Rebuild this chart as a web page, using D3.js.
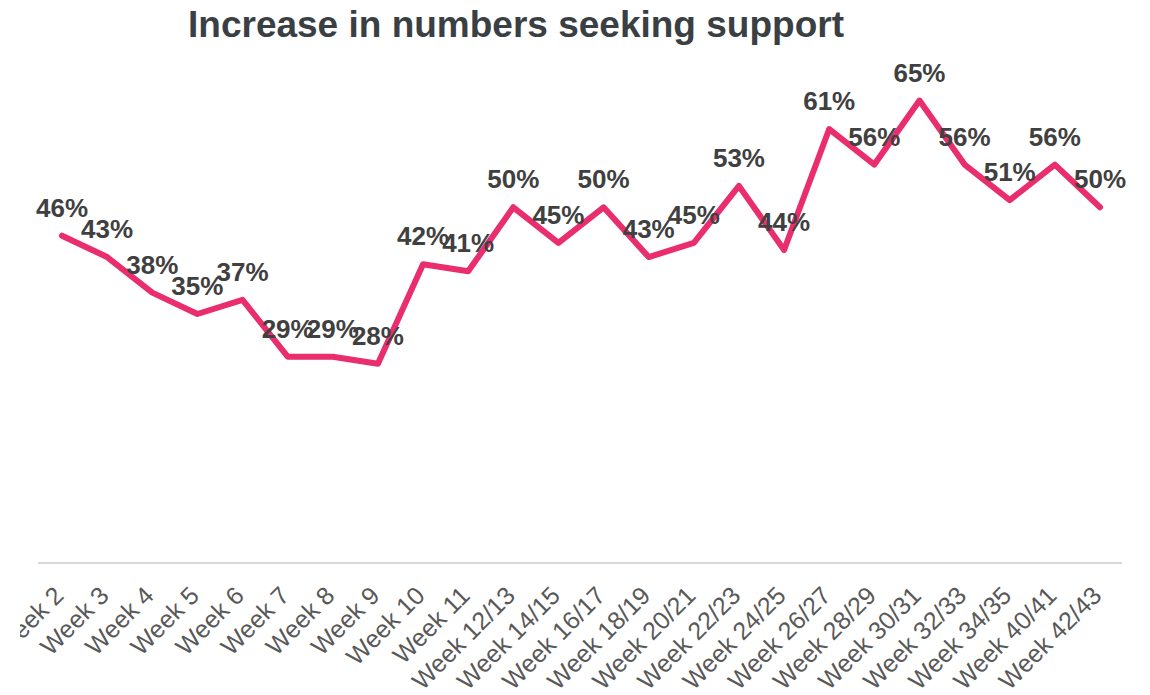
<!DOCTYPE html>
<html>
<head>
<meta charset="utf-8">
<script src="https://cdn.jsdelivr.net/npm/d3@7"></script>
<style>
body { margin: 0; background: #fff; }
</style>
</head>
<body>
<script>
let width = 1150
let height = 695

// data
let weeks = ["Week 2", "Week 3", "Week 4", "Week 5", "Week 6", "Week 7", "Week 8", "Week 9",
	"Week 10", "Week 11", "Week 12/13", "Week 14/15", "Week 16/17", "Week 18/19", "Week 20/21",
	"Week 22/23", "Week 24/25", "Week 26/27", "Week 28/29", "Week 30/31", "Week 32/33",
	"Week 34/35", "Week 40/41", "Week 42/43"]
let increase = [46, 43, 38, 35, 37, 29, 29, 28, 42, 41, 50, 45, 50, 43, 45, 53, 44, 61, 56, 65, 56, 51, 56, 50]

let svg = d3.select("body")
.append("svg")
.attr("width", width)
.attr("height", height)
.style("font-family", "'Liberation Sans', Arial, sans-serif")

//scales
let x = d3.scalePoint()
.domain(weeks)
.range([62, 1100])

let y = d3.scaleLinear()
.domain([0, 70])
.range([563, 65])

// title
svg.append("text")
	.attr("x", 516)
	.attr("y", 37)
	.attr("text-anchor", "middle")
	.style("font-size", "37px")
	.style("font-weight", "bold")
	.style("fill", "#3a3f44")
	.text("Increase in numbers seeking support")

// baseline
svg.append("line")
	.attr("x1", 38)
	.attr("x2", 1122)
	.attr("y1", y(0))
	.attr("y2", y(0))
	.style("stroke", "#d9d9d9")
	.style("stroke-width", 2)

// clip left edge like the original plot area
svg.append("clipPath")
	.attr("id", "clip")
	.append("rect")
	.attr("x", 20)
	.attr("y", 0)
	.attr("width", width - 20)
	.attr("height", height)

// x labels
svg.append("g")
	.attr("clip-path", "url(#clip)")
	.selectAll(".xlab")
	.data(weeks)
	.enter()
	.append("text")
	.attr("class", "xlab")
	.attr("transform", d => "translate(" + (x(d) - 3) + "," + (y(0) + 28) + ") rotate(-45)")
	.attr("text-anchor", "end")
	.attr("dy", "0.35em")
	.style("font-size", "25px")
	.style("fill", "#595959")
	.text(d => d)

let line = d3.line()
	.x((d, i) => x(weeks[i]))
	.y(d => y(d))

svg.append("path")
	.datum(increase)
	.attr("d", line)
	.style("fill", "none")
	.style("stroke", "#ea2d6d")
	.style("stroke-width", 6)
	.style("stroke-linejoin", "round")
	.style("stroke-linecap", "round")

// value labels
svg.selectAll(".val")
	.data(increase)
	.enter()
	.append("text")
	.attr("class", "val")
	.attr("x", (d, i) => x(weeks[i]))
	.attr("y", d => y(d) - 19)
	.attr("text-anchor", "middle")
	.style("font-size", "26px")
	.style("font-weight", "bold")
	.style("fill", "#404040")
	.text(d => d + "%")
</script>
</body>
</html>
